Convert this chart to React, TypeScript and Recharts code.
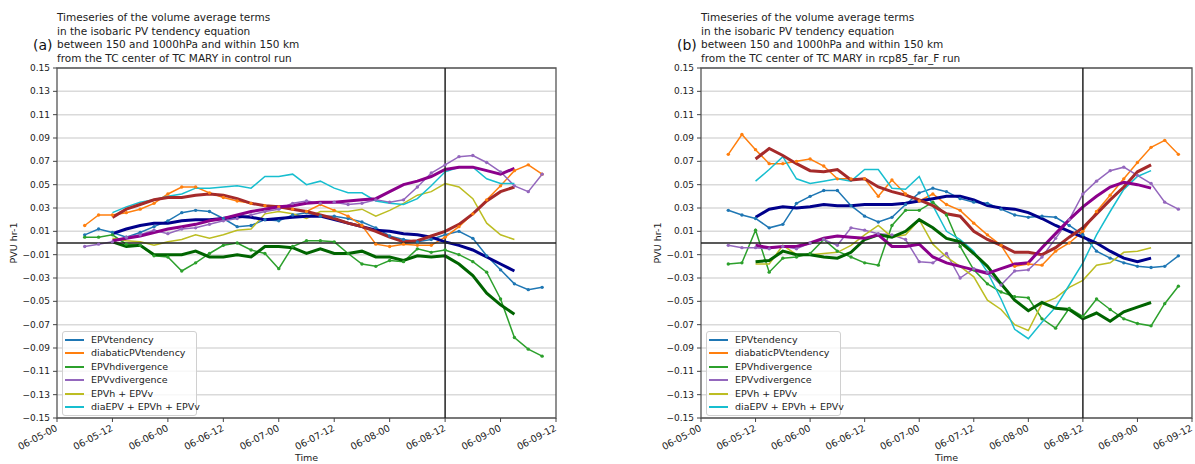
import React from "react";
import {
  LineChart,
  Line,
  XAxis,
  YAxis,
  CartesianGrid,
  ReferenceLine,
  ReferenceArea,
} from "recharts";

const FONT = "DejaVu Sans";

// time axis (hours after 06-05-00)
const HOURS = [6, 9, 12, 15, 18, 21, 24, 27, 30, 33, 36, 39, 42, 45, 48, 51, 54, 57, 60, 63, 66, 69, 72, 75, 78, 81, 84, 87, 90, 93, 96, 99, 102, 105];
const HOURS_SMOOTH = [12, 15, 18, 21, 24, 27, 30, 33, 36, 39, 42, 45, 48, 51, 54, 57, 60, 63, 66, 69, 72, 75, 78, 81, 84, 87, 90, 93, 96, 99];
const X_TICKS = [0, 12, 24, 36, 48, 60, 72, 84, 96, 108];
const X_LABELS = ["06-05-00", "06-05-12", "06-06-00", "06-06-12", "06-07-00", "06-07-12", "06-08-00", "06-08-12", "06-09-00", "06-09-12"];
const Y_TICKS = [-0.15, -0.13, -0.11, -0.09, -0.07, -0.05, -0.03, -0.01, 0.01, 0.03, 0.05, 0.07, 0.09, 0.11, 0.13, 0.15];
const LANDFALL_HOUR = 84;

// (a) control run
const A_T = [0.007, 0.012, 0.009, 0.005, 0.009, 0.014, 0.019, 0.026, 0.028, 0.027, 0.021, 0.014, 0.015, 0.020, 0.019, 0.024, 0.026, 0.023, 0.023, 0.021, 0.018, 0.013, 0.006, 0.003, 0.001, 0.003, 0.007, 0.010, 0.004, -0.011, -0.023, -0.035, -0.040, -0.038];
const A_D = [0.015, 0.024, 0.024, 0.026, 0.029, 0.034, 0.042, 0.048, 0.048, 0.043, 0.039, 0.036, 0.034, 0.032, 0.031, 0.029, 0.027, 0.033, 0.028, 0.023, 0.015, -0.001, -0.003, -0.001, -0.002, -0.002, 0.005, 0.014, 0.025, 0.037, 0.049, 0.062, 0.067, 0.059];
const A_HD = [0.005, 0.005, 0.007, -0.001, -0.002, -0.011, -0.012, -0.024, -0.017, -0.009, -0.002, 0.000, -0.006, -0.009, -0.022, -0.003, 0.002, 0.002, 0.001, -0.009, -0.018, -0.020, -0.015, -0.016, -0.005, -0.008, -0.006, -0.010, -0.016, -0.025, -0.048, -0.081, -0.091, -0.097];
const A_VD = [-0.003, -0.001, 0.001, 0.005, 0.007, 0.011, 0.008, 0.012, 0.013, 0.016, 0.019, 0.021, 0.024, 0.027, 0.029, 0.034, 0.036, 0.034, 0.035, 0.033, 0.034, 0.037, 0.035, 0.037, 0.048, 0.060, 0.067, 0.074, 0.075, 0.069, 0.061, 0.049, 0.044, 0.059];
const A_HV = [0.004, 0.002, 0.001, -0.002, 0.001, 0.003, 0.007, 0.004, 0.007, 0.011, 0.012, 0.025, 0.027, 0.025, 0.021, 0.027, 0.027, 0.027, 0.029, 0.023, 0.028, 0.034, 0.041, 0.044, 0.051, 0.048, 0.038, 0.017, 0.007, 0.003];
const A_SUM = [0.026, 0.031, 0.035, 0.037, 0.040, 0.042, 0.047, 0.047, 0.048, 0.049, 0.047, 0.057, 0.057, 0.059, 0.050, 0.053, 0.047, 0.043, 0.043, 0.036, 0.034, 0.033, 0.038, 0.049, 0.061, 0.065, 0.065, 0.055, 0.051, 0.051];
const A_TS = [0.008, 0.012, 0.015, 0.017, 0.017, 0.019, 0.020, 0.020, 0.021, 0.023, 0.022, 0.020, 0.021, 0.022, 0.023, 0.023, 0.020, 0.017, 0.014, 0.011, 0.010, 0.008, 0.007, 0.005, 0.001, -0.002, -0.006, -0.012, -0.018, -0.024];
const A_DS = [0.022, 0.029, 0.033, 0.037, 0.039, 0.039, 0.041, 0.042, 0.041, 0.038, 0.034, 0.032, 0.031, 0.029, 0.027, 0.024, 0.021, 0.017, 0.014, 0.010, 0.005, 0.001, 0.002, 0.006, 0.010, 0.016, 0.025, 0.036, 0.044, 0.048];
const A_HDS = [0.001, -0.003, -0.002, -0.010, -0.010, -0.010, -0.007, -0.012, -0.012, -0.010, -0.012, -0.003, -0.003, -0.004, -0.009, -0.005, -0.009, -0.009, -0.007, -0.012, -0.012, -0.015, -0.011, -0.012, -0.011, -0.018, -0.028, -0.043, -0.053, -0.061];
const A_VDS = [0.002, 0.004, 0.006, 0.009, 0.012, 0.014, 0.016, 0.019, 0.021, 0.024, 0.027, 0.029, 0.031, 0.032, 0.034, 0.035, 0.035, 0.036, 0.037, 0.038, 0.044, 0.050, 0.053, 0.057, 0.063, 0.065, 0.065, 0.062, 0.059, 0.064];

// (b) rcp85_far_F run
const B_T = [0.028, 0.024, 0.021, 0.013, 0.016, 0.034, 0.040, 0.045, 0.045, 0.032, 0.023, 0.018, 0.022, 0.033, 0.043, 0.047, 0.044, 0.038, 0.035, 0.034, 0.029, 0.024, 0.022, 0.023, 0.022, 0.015, 0.007, -0.007, -0.013, -0.017, -0.020, -0.021, -0.020, -0.011];
const B_D = [0.076, 0.093, 0.080, 0.068, 0.068, 0.070, 0.072, 0.066, 0.055, 0.055, 0.055, 0.040, 0.054, 0.042, 0.036, 0.042, 0.033, 0.028, 0.017, 0.007, -0.002, -0.020, -0.018, -0.019, -0.007, 0.000, 0.010, 0.027, 0.041, 0.055, 0.069, 0.082, 0.088, 0.076];
const B_HD = [-0.018, -0.017, 0.011, -0.025, -0.013, -0.012, -0.009, 0.003, -0.007, -0.012, -0.017, -0.019, 0.015, 0.028, 0.028, 0.035, 0.024, -0.003, -0.023, -0.035, -0.042, -0.046, -0.047, -0.065, -0.073, -0.056, -0.063, -0.048, -0.057, -0.065, -0.069, -0.071, -0.052, -0.037];
const B_VD = [-0.002, -0.004, -0.004, -0.005, -0.003, -0.005, 0.000, 0.003, -0.002, 0.013, 0.011, 0.008, 0.007, 0.003, -0.016, -0.017, -0.009, -0.030, -0.022, -0.025, -0.036, -0.024, -0.023, -0.012, 0.004, 0.020, 0.042, 0.053, 0.062, 0.065, 0.058, 0.051, 0.035, 0.029];
const B_HV = [-0.018, -0.018, -0.002, -0.010, -0.010, -0.009, -0.008, -0.002, 0.007, 0.015, 0.005, 0.007, 0.020, -0.001, -0.012, -0.020, -0.029, -0.049, -0.057, -0.070, -0.075, -0.052, -0.047, -0.038, -0.032, -0.019, -0.017, -0.008, -0.007, -0.004];
const B_SUM = [0.053, 0.063, 0.074, 0.055, 0.051, 0.053, 0.055, 0.053, 0.063, 0.063, 0.047, 0.046, 0.057, 0.032, 0.010, 0.003, -0.007, -0.025, -0.048, -0.074, -0.082, -0.068, -0.055, -0.036, -0.017, 0.007, 0.027, 0.046, 0.057, 0.062];
const B_TS = [0.022, 0.029, 0.031, 0.030, 0.031, 0.033, 0.032, 0.032, 0.033, 0.033, 0.033, 0.034, 0.036, 0.038, 0.040, 0.040, 0.037, 0.032, 0.030, 0.029, 0.026, 0.021, 0.015, 0.010, 0.005, 0.000, -0.007, -0.013, -0.016, -0.013];
const B_DS = [0.072, 0.081, 0.075, 0.068, 0.062, 0.061, 0.063, 0.054, 0.055, 0.048, 0.044, 0.041, 0.037, 0.032, 0.025, 0.023, 0.010, 0.003, -0.002, -0.008, -0.008, -0.010, -0.004, 0.005, 0.013, 0.025, 0.037, 0.048, 0.061, 0.067];
const B_HDS = [-0.016, -0.015, -0.007, -0.010, -0.010, -0.012, -0.013, -0.008, 0.003, 0.007, 0.005, 0.010, 0.020, 0.013, 0.004, 0.001, -0.009, -0.020, -0.035, -0.049, -0.058, -0.051, -0.056, -0.057, -0.065, -0.060, -0.067, -0.059, -0.055, -0.051];
const B_VDS = [-0.002, -0.004, -0.003, -0.003, 0.000, 0.004, 0.006, 0.005, 0.004, 0.007, -0.003, -0.003, -0.001, -0.012, -0.017, -0.020, -0.023, -0.026, -0.022, -0.018, -0.017, -0.004, 0.008, 0.020, 0.031, 0.040, 0.048, 0.052, 0.050, 0.047];

// series styles: thin raw series (in legend) then thick smoothed ones
const SERIES = [
  { key: "t", name: "EPVtendency", color: "#1f77b4", width: 1.5, dot: true, legend: true },
  { key: "d", name: "diabaticPVtendency", color: "#ff7f0e", width: 1.5, dot: true, legend: true },
  { key: "hd", name: "EPVhdivergence", color: "#2ca02c", width: 1.5, dot: true, legend: true },
  { key: "vd", name: "EPVvdivergence", color: "#9467bd", width: 1.5, dot: true, legend: true },
  { key: "hv", name: "EPVh + EPVv", color: "#bcbd22", width: 1.5, dot: false, legend: true },
  { key: "sum", name: "diaEPV + EPVh + EPVv", color: "#17becf", width: 1.5, dot: false, legend: true },
  { key: "ts", name: "EPVtendency smooth", color: "#00008b", width: 3, dot: false, legend: false },
  { key: "ds", name: "diabatic smooth", color: "#a52a2a", width: 3, dot: false, legend: false },
  { key: "hds", name: "EPVh smooth", color: "#006400", width: 3, dot: false, legend: false },
  { key: "vds", name: "EPVv smooth", color: "#8b008b", width: 3, dot: false, legend: false },
];

type Row = { hour: number; [k: string]: number | null };

function buildRows(raw: Record<string, number[]>, smooth: Record<string, number[]>): Row[] {
  return HOURS.map((h, i) => {
    const row: Row = { hour: h };
    Object.keys(raw).forEach((k) => (row[k] = raw[k][i]));
    const j = HOURS_SMOOTH.indexOf(h);
    Object.keys(smooth).forEach((k) => (row[k] = j >= 0 ? smooth[k][j] : null));
    return row;
  });
}

const ROWS_A = buildRows(
  { t: A_T, d: A_D, hd: A_HD, vd: A_VD },
  { hv: A_HV, sum: A_SUM, ts: A_TS, ds: A_DS, hds: A_HDS, vds: A_VDS }
);
const ROWS_B = buildRows(
  { t: B_T, d: B_D, hd: B_HD, vd: B_VD },
  { hv: B_HV, sum: B_SUM, ts: B_TS, ds: B_DS, hds: B_HDS, vds: B_VDS }
);

const TITLE_COMMON = [
  "Timeseries of the volume average terms",
  "in the isobaric PV tendency equation",
  "between 150 and 1000hPa and within 150 km",
];

function YTick(props: any) {
  const { x, y, payload } = props;
  const s = Number(payload.value).toFixed(2).replace("-", "\u2212");
  return (
    <text x={x} y={y} dy="0.35em" textAnchor="end" fontSize={9} fill="#222" fontFamily={FONT}>
      {s}
    </text>
  );
}

function XTick(props: any) {
  const { x, y, payload } = props;
  const label = X_LABELS[X_TICKS.indexOf(payload.value)];
  return (
    <g transform={`translate(${x - 2},${y})`}>
      <text textAnchor="end" transform="rotate(-28)" dy="0.72em" fontSize={9.5} fill="#222" fontFamily={FONT}>
        {label}
      </text>
    </g>
  );
}

function LegendBox({ left }: { left: number }) {
  return (
    <div
      style={{
        position: "absolute",
        left,
        top: 331,
        width: 133,
        height: 83,
        border: "1px solid #d0d0d0",
        borderRadius: 3,
        background: "rgba(255,255,255,0.8)",
        fontFamily: FONT,
        fontSize: 9.5,
        color: "#222",
      }}
    >
      {SERIES.filter((s) => s.legend).map((s, i) => (
        <div key={s.key} style={{ position: "absolute", left: 0, top: 1 + i * 13.4, height: 13.4, width: 133 }}>
          <div style={{ position: "absolute", left: 2, top: 6, width: 19, height: 2, background: s.color }} />
          <div style={{ position: "absolute", left: 28, top: 0, lineHeight: "13.4px", whiteSpace: "nowrap" }}>{s.name}</div>
        </div>
      ))}
    </div>
  );
}

function Panel({
  rows,
  tag,
  lastLine,
  left,
  width,
  plotLeft,
  marginRight,
}: {
  rows: Row[];
  tag: string;
  lastLine: string;
  left: number;
  width: number;
  plotLeft: number;
  marginRight: number;
}) {
  const marginLeft = plotLeft - 40;
  const plotCenter = (plotLeft + width - marginRight) / 2;
  return (
    <div style={{ position: "absolute", left, top: 0, width, height: 464 }}>
      <div
        style={{
          position: "absolute",
          left: plotLeft,
          top: 11,
          fontFamily: FONT,
          fontSize: 10.5,
          lineHeight: "13.5px",
          color: "#222",
          whiteSpace: "nowrap",
        }}
      >
        {[...TITLE_COMMON, lastLine].map((l) => (
          <div key={l}>{l}</div>
        ))}
      </div>
      <div
        style={{
          position: "absolute",
          left: plotLeft - 24,
          top: 37,
          fontFamily: FONT,
          fontSize: 14,
          color: "#111",
          whiteSpace: "nowrap",
        }}
      >
        {tag}
      </div>
      <div
        style={{
          position: "absolute",
          left: plotLeft - 44.5,
          top: 243,
          transform: "translate(-50%, -50%) rotate(-90deg)",
          fontFamily: FONT,
          fontSize: 9.5,
          color: "#222",
          whiteSpace: "nowrap",
        }}
      >
        PVU hr-1
      </div>
      <div
        style={{
          position: "absolute",
          left: plotCenter,
          top: 452,
          transform: "translateX(-50%)",
          fontFamily: FONT,
          fontSize: 9.5,
          color: "#222",
        }}
      >
        Time
      </div>
      <div style={{ position: "absolute", left: 0, top: 0 }}>
        <LineChart
          width={width}
          height={464}
          data={rows}
          margin={{ top: 68, right: marginRight, bottom: 6, left: marginLeft }}
        >
          <CartesianGrid vertical={false} stroke="#dadada" strokeWidth={1.5} />
          <XAxis
            dataKey="hour"
            type="number"
            domain={[0, 108]}
            ticks={X_TICKS}
            height={40}
            axisLine={false}
            tickLine={{ stroke: "#444" }}
            tickSize={4}
            tickMargin={2}
            tick={<XTick />}
            interval={0}
          />
          <YAxis
            type="number"
            domain={[-0.15, 0.15]}
            ticks={Y_TICKS}
            width={40}
            axisLine={false}
            tickLine={{ stroke: "#444" }}
            tickSize={4}
            tickMargin={3}
            tick={<YTick />}
            interval={0}
            allowDataOverflow
          />
          <ReferenceArea
            x1={0}
            x2={108}
            y1={-0.15}
            y2={0.15}
            fill="#ffffff"
            fillOpacity={0}
            stroke="#555"
            strokeWidth={1.3}
            ifOverflow="visible"
          />
          {SERIES.map((s) => (
            <Line
              key={s.key}
              dataKey={s.key}
              name={s.name}
              type="linear"
              stroke={s.color}
              strokeWidth={s.width}
              dot={s.dot ? { r: 1.7, fill: s.color, stroke: s.color, strokeWidth: 0 } : false}
              activeDot={false}
              isAnimationActive={false}
              connectNulls={false}
            />
          ))}
          <ReferenceLine y={0} stroke="#222" strokeWidth={1.5} />
          <ReferenceLine x={LANDFALL_HOUR} stroke="#222" strokeWidth={1.5} />
        </LineChart>
      </div>
      <LegendBox left={plotLeft + 5} />
    </div>
  );
}

export default function App() {
  return (
    <div
      style={{
        position: "absolute",
        left: 0,
        top: 0,
        width: 1195,
        height: 464,
        overflow: "hidden",
        background: "#fff",
      }}
    >
      <Panel rows={ROWS_A} tag="(a)" lastLine="from the TC center of TC MARY in control run" left={0} width={600} plotLeft={57} marginRight={44} />
      <Panel rows={ROWS_B} tag="(b)" lastLine="from the TC center of TC MARY in rcp85_far_F run" left={640} width={554} plotLeft={61} marginRight={2} />
    </div>
  );
}
